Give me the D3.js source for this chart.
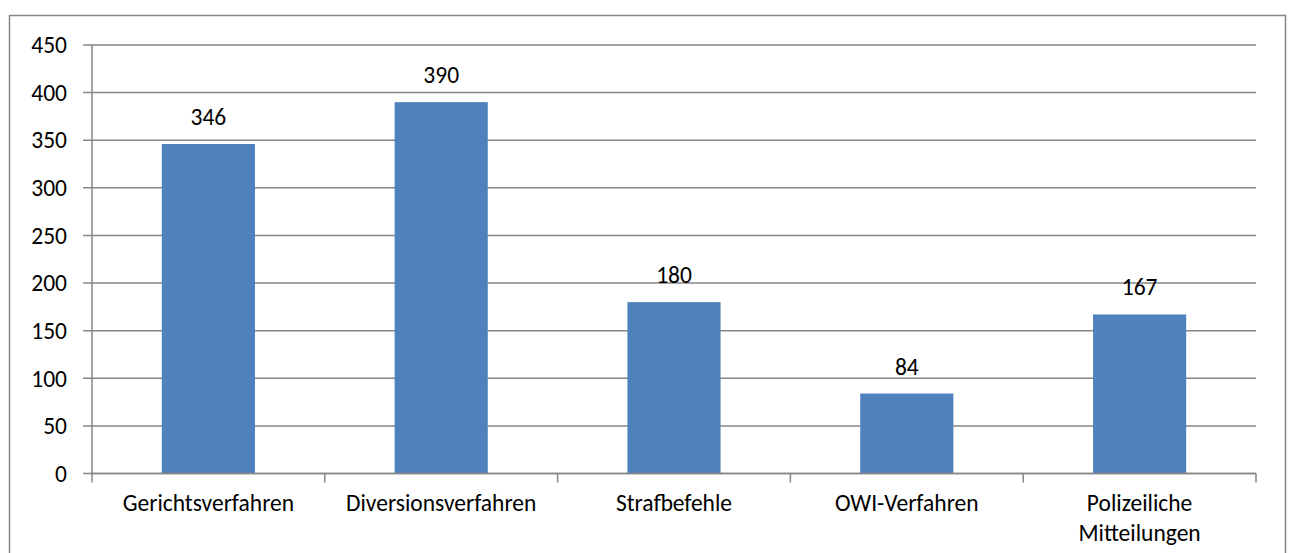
<!DOCTYPE html>
<html>
<head>
<meta charset="utf-8">
<script src="https://cdn.jsdelivr.net/npm/d3@7"></script>
<style>
    body { margin: 0; background: #fff; }
    svg text { font-family: Carlito, Calibri, Lato, sans-serif; fill: #000; }
</style>
</head>
<body>
<svg></svg>
<script>
const categories = ["Gerichtsverfahren", "Diversionsverfahren", "Strafbefehle", "OWI-Verfahren", "Polizeiliche Mitteilungen"];
const values = [346, 390, 180, 84, 167];
const yTicks = [0, 50, 100, 150, 200, 250, 300, 350, 400, 450];

const width = 1291;
const height = 553;
const margin = { top: 45, bottom: 79.5, left: 92, right: 35 };
const fontSize = 23.5;

const svg = d3.select("svg")
    .attr("width", width)
    .attr("height", height);

/*outer chart frame*/
svg.append("rect")
    .attr("x", 9.5)
    .attr("y", 15.5)
    .attr("width", 1276)
    .attr("height", 560)
    .attr("fill", "#fff")
    .attr("stroke", "#868686")
    .attr("stroke-width", 1.5);

const g = svg.append("g")
    .attr("transform", `translate(${[margin.left, margin.top]})`);

const w = width - margin.left - margin.right;
const h = height - margin.top - margin.bottom;

const x = d3.scaleBand()
    .domain(categories)
    .range([0, w])
    .paddingInner(0.6)
    .paddingOuter(0.3);

const y = d3.scaleLinear()
    .domain([0, 450])
    .range([h, 0]);

/*gridlines + left ticks*/
g.append("g")
    .selectAll("line")
    .data(yTicks)
    .join("line")
    .attr("x1", -9)
    .attr("x2", w)
    .attr("y1", (d) => y(d))
    .attr("y2", (d) => y(d))
    .attr("stroke", "#868686")
    .attr("stroke-width", 1.5);

g.append("g")
    .selectAll("text")
    .data(yTicks)
    .join("text")
    .attr("x", -25)
    .attr("y", (d) => y(d))
    .attr("dy", "0.35em")
    .attr("text-anchor", "end")
    .attr("font-size", fontSize)
    .text((d) => d);

/*bars*/
g.append("g")
    .selectAll("rect")
    .data(values)
    .join("rect")
    .attr("x", (d, i) => x(categories[i]))
    .attr("y", (d) => y(d))
    .attr("width", x.bandwidth())
    .attr("height", (d) => h - y(d))
    .attr("fill", "#4F81BD");

g.append("g")
    .selectAll("text")
    .data(values)
    .join("text")
    .attr("x", (d, i) => x(categories[i]) + x.bandwidth() / 2)
    .attr("y", (d) => y(d) - 19)
    .attr("text-anchor", "middle")
    .attr("font-size", fontSize)
    .text((d) => d);

/*axis lines*/
const step = w / categories.length;
g.append("line")
    .attr("x1", 0).attr("x2", 0)
    .attr("y1", 0).attr("y2", h)
    .attr("stroke", "#868686")
    .attr("stroke-width", 1.5);

g.append("line")
    .attr("x1", 0).attr("x2", w)
    .attr("y1", h).attr("y2", h)
    .attr("stroke", "#868686")
    .attr("stroke-width", 1.5);

g.append("g")
    .selectAll("line")
    .data(d3.range(categories.length + 1))
    .join("line")
    .attr("x1", (i) => i * step)
    .attr("x2", (i) => i * step)
    .attr("y1", h)
    .attr("y2", h + 9)
    .attr("stroke", "#868686")
    .attr("stroke-width", 1.5);

/*category labels, wrapped into at most two lines*/
const wrap = { "Polizeiliche Mitteilungen": ["Polizeiliche", "Mitteilungen"] };
g.append("g")
    .selectAll("text")
    .data(categories)
    .join("text")
    .attr("x", (d) => x(d) + x.bandwidth() / 2)
    .attr("y", h + 37)
    .attr("text-anchor", "middle")
    .attr("font-size", fontSize)
    .each(function (d) {
        const lines = wrap[d] || [d];
        d3.select(this).selectAll("tspan")
            .data(lines)
            .join("tspan")
            .attr("x", x(d) + x.bandwidth() / 2)
            .attr("dy", (l, i) => i === 0 ? 0 : 30)
            .text((l) => l);
    });
</script>
</body>
</html>
